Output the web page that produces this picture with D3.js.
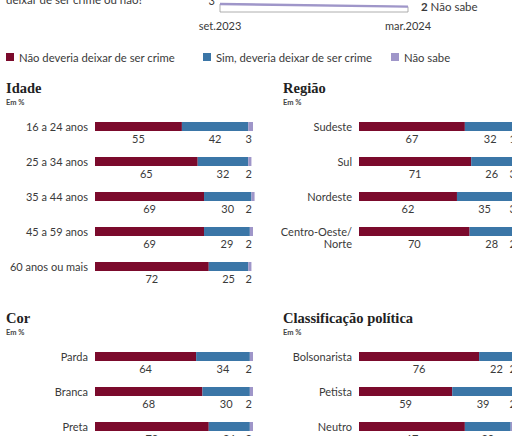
<!DOCTYPE html>
<html>
<head>
<meta charset="utf-8">
<script src="https://cdn.jsdelivr.net/npm/d3@7"></script>
<style>
  html, body { margin: 0; padding: 0; background: #fff; overflow: hidden; }
  text { font-family: Lato, "Open Sans", sans-serif; fill: #3a3a3a; }
  .title { font-family: "Liberation Serif", serif; font-weight: bold; font-size: 14.5px; fill: #222; }
  .unit { font-size: 7.5px; font-weight: bold; fill: #444; }
</style>
</head>
<body>
<div id="vis"></div>
<script>
const WIDTH = 512;
const HEIGHT = 436;

const COLORS = ["#7b0a2c", "#3b76a7", "#9f96c9"];
const SERIES = ["Não deveria deixar de ser crime", "Sim, deveria deixar de ser crime", "Não sabe"];

// top line (Não sabe) from the chart above
const TREND_DATES = ["2023-09-01", "2024-03-01"];
const TREND_LABELS = ["set.2023", "mar.2024"];
const TREND_NAO_SABE = [3, 2];

// Idade
const IDADE = ["16 a 24 anos", "25 a 34 anos", "35 a 44 anos", "45 a 59 anos", "60 anos ou mais"];
const IDADE_NAO = [55, 65, 69, 69, 72];
const IDADE_SIM = [42, 32, 30, 29, 25];
const IDADE_NS = [3, 2, 2, 2, 2];

// Região
const REGIAO = ["Sudeste", "Sul", "Nordeste", "Centro-Oeste/Norte"];
const REGIAO_NAO = [67, 71, 62, 70];
const REGIAO_SIM = [32, 26, 35, 28];
const REGIAO_NS = [1, 3, 3, 2];

// Cor
const COR = ["Parda", "Branca", "Preta"];
const COR_NAO = [64, 68, 72];
const COR_SIM = [34, 30, 26];
const COR_NS = [2, 2, 2];

// Classificação política
const POLITICA = ["Bolsonarista", "Petista", "Neutro"];
const POLITICA_NAO = [76, 59, 67];
const POLITICA_SIM = [22, 39, 29];
const POLITICA_NS = [2, 2, 4];

const BAR_H = 9;
const ROW_STEP = 35;
const BAR_W = 158;
const FS = "11px";

const svg = d3.select("#vis")
  .append("svg")
    .attr("width", WIDTH)
    .attr("height", HEIGHT);

// ---- top remnant of the line chart ----
svg.append("text")
  .attr("x", 6).attr("y", 3.5)
  .style("font-size", "11.5px")
  .text("deixar de ser crime ou não?");

const tScale = d3.scaleTime(
  TREND_DATES.map(d => new Date(d)),
  [220, 408]
);
const vScale = d3.scaleLinear([0, 3], [12, 4]);

const trend = TREND_DATES.map((d, i) => ({ date: new Date(d), v: TREND_NAO_SABE[i] }));

svg.append("path")
  .datum(trend)
  .attr("d", d3.area().x(d => tScale(d.date)).y0(vScale(0)).y1(d => vScale(d.v)))
  .attr("fill", "#fff")
  .attr("stroke", "#9a9a9a")
  .attr("stroke-width", 0.8);

svg.append("path")
  .datum(trend)
  .attr("d", d3.line().x(d => tScale(d.date)).y(d => vScale(d.v)))
  .attr("fill", "none")
  .attr("stroke", COLORS[2])
  .attr("stroke-width", 2.4);

svg.append("text")
  .attr("x", tScale(trend[0].date) - 5).attr("y", 5)
  .attr("text-anchor", "end")
  .style("font-size", FS)
  .text(TREND_NAO_SABE[0]);

const lastLab = svg.append("text")
  .attr("x", tScale(trend[1].date) + 13).attr("y", vScale(trend[1].v) + 4)
  .style("font-size", "11.5px");
lastLab.append("tspan").style("font-weight", "bold").text(TREND_NAO_SABE[1]);
lastLab.append("tspan").text(" Não sabe");

svg.selectAll(".tlabel")
  .data(TREND_LABELS)
  .enter()
  .append("text")
    .attr("x", (d, i) => tScale(new Date(TREND_DATES[i])))
    .attr("y", 30)
    .attr("text-anchor", "middle")
    .style("font-size", "11px")
    .text(d => d);

// ---- legend ----
const legendX = [6, 203, 391];
const legend = svg.selectAll(".leg")
  .data(SERIES)
  .enter()
  .append("g")
    .attr("transform", (d, i) => `translate(${legendX[i]}, 53)`);
legend.append("rect")
  .attr("width", 8).attr("height", 8)
  .attr("fill", (d, i) => COLORS[i]);
legend.append("text")
  .attr("x", 13).attr("y", 8.5)
  .style("font-size", "11.3px")
  .text(d => d);

// ---- panels ----
function drawPanel(x0, barX, y0, title, cats, nao, sim, ns) {
  const g = svg.append("g");

  g.append("text").attr("class", "title")
    .attr("x", x0).attr("y", y0)
    .text(title);
  g.append("text").attr("class", "unit")
    .attr("x", x0).attr("y", y0 + 12)
    .text("Em %");

  const xScale = d3.scaleLinear([0, 100], [barX, barX + BAR_W]);
  const yScale = d3.scaleBand()
    .domain(cats)
    .range([y0 + 29, y0 + 29 + ROW_STEP * cats.length]);

  const rows = cats.map((c, i) => {
    const vals = [nao[i], sim[i], ns[i]];
    let acc = 0;
    const segs = vals.map((v, k) => {
      const s = { k: k, v: v, x0: acc, x1: acc + v };
      acc += v;
      return s;
    });
    return { cat: c, segs: segs };
  });

  const row = g.selectAll(".row")
    .data(rows)
    .enter()
    .append("g")
      .attr("transform", d => `translate(0, ${yScale(d.cat)})`);

  row.selectAll("rect")
    .data(d => d.segs)
    .enter()
    .append("rect")
      .attr("x", d => xScale(d.x0))
      .attr("width", d => xScale(d.x1) - xScale(d.x0))
      .attr("y", 0)
      .attr("height", BAR_H)
      .attr("fill", d => COLORS[d.k]);

  // category label (wraps after "/")
  row.each(function(d) {
    const parts = d.cat.includes("/") ? [d.cat.split("/")[0] + "/", d.cat.split("/")[1]] : [d.cat];
    const t = d3.select(this).append("text")
      .attr("x", barX - 7)
      .attr("y", 8.5)
      .attr("text-anchor", "end")
      .style("font-size", FS);
    parts.forEach((p, i) => {
      t.append("tspan").attr("x", barX - 7).attr("dy", i === 0 ? 0 : 12.5).text(p);
    });
  });

  // value labels
  row.selectAll(".val")
    .data(d => d.segs)
    .enter()
    .append("text")
      .attr("x", d => d.k === 2 ? xScale(100) - 1 : xScale((d.x0 + d.x1) / 2))
      .attr("y", 21)
      .attr("text-anchor", d => d.k === 2 ? "end" : "middle")
      .style("font-size", FS)
      .text(d => d.v);
}

drawPanel(6, 95, 93, "Idade", IDADE, IDADE_NAO, IDADE_SIM, IDADE_NS);
drawPanel(283, 359, 93, "Região", REGIAO, REGIAO_NAO, REGIAO_SIM, REGIAO_NS);
drawPanel(6, 95, 323, "Cor", COR, COR_NAO, COR_SIM, COR_NS);
drawPanel(283, 359, 323, "Classificação política", POLITICA, POLITICA_NAO, POLITICA_SIM, POLITICA_NS);
</script>
</body>
</html>
